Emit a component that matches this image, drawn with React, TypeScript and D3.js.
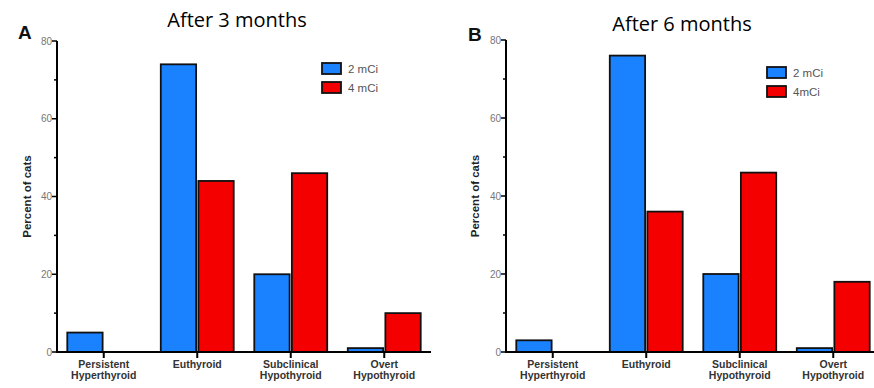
import React, { useEffect, useRef } from "react";
import * as d3 from "d3";

const categories = ["Persistent|Hyperthyroid", "Euthyroid", "Subclinical|Hypothyroid", "Overt|Hypothyroid"];
const series = ["2 mCi", "4 mCi"];
const after3Low = [5, 74, 20, 1];
const after3High = [0, 44, 46, 10];
const after6Low = [3, 76, 20, 1];
const after6High = [0, 36, 46, 18];
const yTicks = [0, 20, 40, 60, 80];
const yMinorTicks = [10, 30, 50, 70];
const colors = ["#1a82ff", "#f40000"];

const panels = [
  { letter: "A", title: "After 3 months", values: [after3Low, after3High], legend: ["2 mCi", "4 mCi"],
    x0: 57, x1: 431, yTop: 41, yBottom: 352, titleX: 237, titleY: 27, letterX: 18, letterY: 39, labelX: 27,
    legendX: 322, legendY: 63 },
  { letter: "B", title: "After 6 months", values: [after6Low, after6High], legend: ["2 mCi", "4mCi"],
    x0: 506, x1: 880, yTop: 40, yBottom: 352, titleX: 682, titleY: 31, letterX: 468, letterY: 41, labelX: 475,
    legendX: 767, legendY: 67 },
];

const App = () => {
  const ref = useRef<SVGSVGElement>(null);

  useEffect(() => {
    const svg = d3.select(ref.current);
    svg.selectAll("*").remove();

    panels.forEach((p) => {
      const g = svg.append("g");
      const x = d3.scaleBand().domain(categories).range([p.x0, p.x1]).paddingInner(0.22).paddingOuter(0.11);
      const xs = d3.scaleBand().domain(series).range([0, x.bandwidth()]).paddingInner(0.06);
      const y = d3.scaleLinear().domain([0, 80]).range([p.yBottom, p.yTop]);

      // bars
      series.forEach((s, si) => {
        g.selectAll(null).data(p.values[si]).enter().append("rect")
          .attr("x", (d, i) => (x(categories[i]) as number) + (xs(s) as number))
          .attr("y", (d) => y(d))
          .attr("width", xs.bandwidth())
          .attr("height", (d) => y(0) - y(d))
          .attr("fill", colors[si])
          .attr("stroke", "#111")
          .attr("stroke-width", 1.8)
          .attr("display", (d) => (d > 0 ? null : "none"));
      });

      // y axis
      g.append("line").attr("x1", p.x0).attr("x2", p.x0).attr("y1", y(80)).attr("y2", y(0) + 1)
        .attr("stroke", "#000").attr("stroke-width", 2);
      g.selectAll(null).data(yTicks).enter().append("line")
        .attr("x1", p.x0 - 5).attr("x2", p.x0).attr("y1", (d) => y(d)).attr("y2", (d) => y(d))
        .attr("stroke", "#000").attr("stroke-width", 1.5);
      g.selectAll(null).data(yMinorTicks).enter().append("line")
        .attr("x1", p.x0 - 3).attr("x2", p.x0).attr("y1", (d) => y(d)).attr("y2", (d) => y(d))
        .attr("stroke", "#000").attr("stroke-width", 1.5);
      g.selectAll(null).data(yTicks).enter().append("text")
        .attr("x", p.x0 - 5).attr("y", (d) => y(d) + 3.5).attr("text-anchor", "end")
        .style("font-family", "Liberation Sans, Arial").style("font-size", "10px").attr("fill", "#777")
        .text((d) => d);

      // x axis
      g.append("line").attr("x1", p.x0 - 1).attr("x2", p.x1).attr("y1", y(0)).attr("y2", y(0))
        .attr("stroke", "#000").attr("stroke-width", 2);
      g.selectAll(null).data(categories).enter().append("line")
        .attr("x1", (d) => (x(d) as number) + x.bandwidth() / 2).attr("x2", (d) => (x(d) as number) + x.bandwidth() / 2)
        .attr("y1", y(0)).attr("y2", y(0) + 6)
        .attr("stroke", "#000").attr("stroke-width", 2);
      const lbl = g.selectAll(null).data(categories).enter().append("text")
        .attr("text-anchor", "middle")
        .style("font-family", "Liberation Sans, Arial").style("font-size", "10.5px").style("font-weight", "bold")
        .attr("fill", "#333");
      lbl.each(function (d) {
        const cx = (x(d) as number) + x.bandwidth() / 2;
        d.split("|").forEach((line, li) => {
          d3.select(this).append("tspan").attr("x", cx).attr("y", y(0) + 16 + li * 11).text(line);
        });
      });

      // y label
      g.append("text").attr("transform", `translate(${p.labelX}, ${(p.yTop + p.yBottom) / 2}) rotate(-90)`)
        .attr("text-anchor", "middle").attr("dy", "0.35em")
        .style("font-family", "Liberation Sans, Arial").style("font-size", "11.5px").style("font-weight", "bold")
        .attr("fill", "#222").text("Percent of cats");

      // title and panel letter
      g.append("text").attr("x", p.titleX).attr("y", p.titleY).attr("text-anchor", "middle")
        .style("font-family", "Open Sans, sans-serif").style("font-size", "20px").attr("fill", "#000").text(p.title);
      g.append("text").attr("x", p.letterX).attr("y", p.letterY)
        .style("font-family", "Liberation Sans, Arial").style("font-size", "19px").style("font-weight", "bold")
        .attr("fill", "#111").text(p.letter);

      // legend
      p.legend.forEach((name, li) => {
        g.append("rect").attr("x", p.legendX).attr("y", p.legendY + li * 19).attr("width", 19).attr("height", 11)
          .attr("fill", colors[li]).attr("stroke", "#111").attr("stroke-width", 1.8);
        g.append("text").attr("x", p.legendX + 26).attr("y", p.legendY + li * 19 + 10)
          .style("font-family", "Liberation Sans, Arial").style("font-size", "11.5px").attr("fill", "#555").text(name);
      });
    });
  }, []);

  return (
    <svg ref={ref} width={874} height={388} style={{ position: "absolute", left: 0, top: 0, background: "#fff" }}></svg>
  );
};

export default App;
